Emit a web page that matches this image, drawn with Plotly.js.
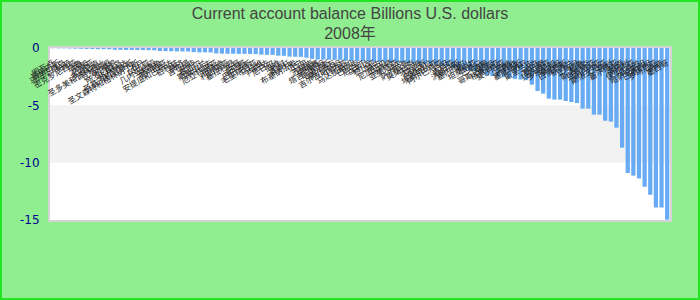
<!DOCTYPE html>
<html>
<head>
<meta charset="utf-8">
<script src="https://cdn.plot.ly/plotly-3.0.1.min.js"></script>
<style>
  html, body { margin: 0; padding: 0; background: #90ee90; }
  #wrap { position: relative; width: 700px; height: 300px; }
  #chart { width: 700px; height: 300px; }
  #frame { position: absolute; left: 0; top: 0; width: 700px; height: 300px;
           box-sizing: border-box; border: 2px solid #22e622; pointer-events: none; }
</style>
</head>
<body>
<div id="wrap"><div id="chart"></div><div id="frame"></div></div>
<script>
// Countries with a current account deficit, smallest to largest
const countries = [
  '图瓦卢','基里巴斯','马绍尔群岛','帕劳','密克罗尼西亚','瑙鲁','汤加','萨摩亚','多米尼克','圣多美和普林西比',
  '瓦努阿图','科摩罗','所罗门群岛','格林纳达','圣基茨和尼维斯','圣文森特和格林纳丁斯','不丹','冈比亚','几内亚比绍','佛得角',
  '圣卢西亚','安提瓜和巴布达','伯利兹','斐济','吉布提','中非','塞舌尔','斯威士兰','马尔代夫','厄立特里亚',
  '布隆迪','利比里亚','塞拉利昂','多哥','圭亚那','巴巴多斯','毛里塔尼亚','马拉维','卢旺达','尼日尔',
  '海地','老挝','莱索托','布基纳法索','贝宁','马里','苏里南','柬埔寨','塔吉克斯坦','毛里求斯',
  '摩尔多瓦','吉尔吉斯斯坦','几内亚','马达加斯加','巴拉圭','尼泊尔','乌干达','赞比亚','蒙古','尼加拉瓜',
  '马其顿','亚美尼亚','埃及','萨尔瓦多','莫桑比克','牙买加','突尼斯','危地马拉','埃塞俄比亚','阿尔巴尼亚',
  '约旦','肯尼亚','洪都拉斯','塞内加尔','黑山','坦桑尼亚','巴拿马','波黑','哥斯达黎加','格鲁吉亚',
  '爱沙尼亚','加纳','马耳他','塞浦路斯','苏丹','斯里兰卡','冰岛','黎巴嫩','拉脱维亚','多米尼加',
  '摩洛哥','白俄罗斯','新西兰','立陶宛','秘鲁','斯洛伐克','克罗地亚','哥伦比亚','斯洛文尼亚','智利',
  '塞尔维亚','越南','匈牙利','保加利亚','乌克兰','哈萨克斯坦','巴基斯坦','罗马尼亚','南非','墨西哥'
];

// Balance, billions of U.S. dollars
const balance = [
  -0.02, -0.03, -0.03, -0.04,
  -0.06, -0.07, -0.08, -0.09, -0.10, -0.10, -0.11,
  -0.15, -0.16, -0.17, -0.17, -0.18, -0.18, -0.19, -0.20,
  -0.26, -0.27, -0.28, -0.29, -0.30, -0.31,
  -0.36, -0.38, -0.38, -0.39,
  -0.48, -0.49, -0.50, -0.50, -0.51, -0.51, -0.52, -0.53,
  -0.58, -0.59, -0.60,
  -0.67, -0.68,
  -0.75, -0.76, -0.77,
  -0.85,
  -0.95,
  -1.00, -1.01, -1.02, -1.03, -1.04,
  -1.12, -1.13, -1.14,
  -1.16, -1.18, -1.20, -1.21, -1.23, -1.25, -1.26, -1.28, -1.30, -1.32,
  -1.35, -1.38, -1.40, -1.45, -1.50, -1.60, -1.75,
  -1.90, -1.95, -2.00, -2.05, -2.20, -2.40, -2.45, -2.50, -2.55, -2.60, -2.70, -2.75, -2.80,
  -3.20, -3.75, -3.98, -4.42, -4.50, -4.50, -4.62, -4.71, -4.80, -5.29, -5.29, -5.81, -5.81,
  -6.34, -6.42, -6.95, -8.69, -10.90, -11.13, -11.39, -12.09, -12.79, -13.92, -13.92, -14.97
];

const yTicks = [0, -5, -10, -15];

const trace = {
  type: 'bar',
  x: countries,
  y: balance,
  marker: { color: '#66abf3' },
  hoverinfo: 'x+y'
};

const layout = {
  width: 700,
  height: 300,
  margin: { l: 50, r: 30, t: 48, b: 80 },
  paper_bgcolor: '#90ee90',
  plot_bgcolor: '#ffffff',
  bargap: 0.25,
  showlegend: false,
  title: {
    text: 'Current account balance Billions U.S. dollars<br>2008年',
    font: { family: 'Liberation Sans, Noto Sans CJK SC, sans-serif', size: 16, color: '#444444' },
    x: 0.5, xanchor: 'center',
    yref: 'container',
    y: 0.938, yanchor: 'middle'
  },
  xaxis: {
    type: 'category',
    side: 'top',
    tickmode: 'array',
    tickvals: countries,
    ticktext: countries,
    tickangle: -30,
    ticklabelposition: 'inside',
    ticklabeloverflow: 'allow',
    ticklabelstandoff: 10,
    ticks: '',
    tickfont: { family: 'Noto Sans CJK SC, sans-serif', size: 8, color: '#222222' },
    showgrid: false,
    showline: true,
    mirror: true,
    linecolor: '#d4d4d4',
    linewidth: 2,
    zeroline: false
  },
  yaxis: {
    range: [-15, 0],
    tickmode: 'array',
    tickvals: yTicks,
    ticktext: yTicks.map(String),
    ticks: '',
    ticklabelstandoff: 6,
    tickfont: { family: 'DejaVu Sans, sans-serif', size: 12, color: '#00008b' },
    showgrid: false,
    zeroline: false,
    showline: true,
    mirror: true,
    linecolor: '#d4d4d4',
    linewidth: 2
  },
  shapes: [
    { type: 'rect', xref: 'paper', x0: 0, x1: 1, yref: 'y', y0: -5, y1: -10,
      fillcolor: '#f2f2f2', line: { width: 0 }, layer: 'below' }
  ]
};

Plotly.newPlot('chart', [trace], layout, { displayModeBar: false, staticPlot: true });
</script>
</body>
</html>
